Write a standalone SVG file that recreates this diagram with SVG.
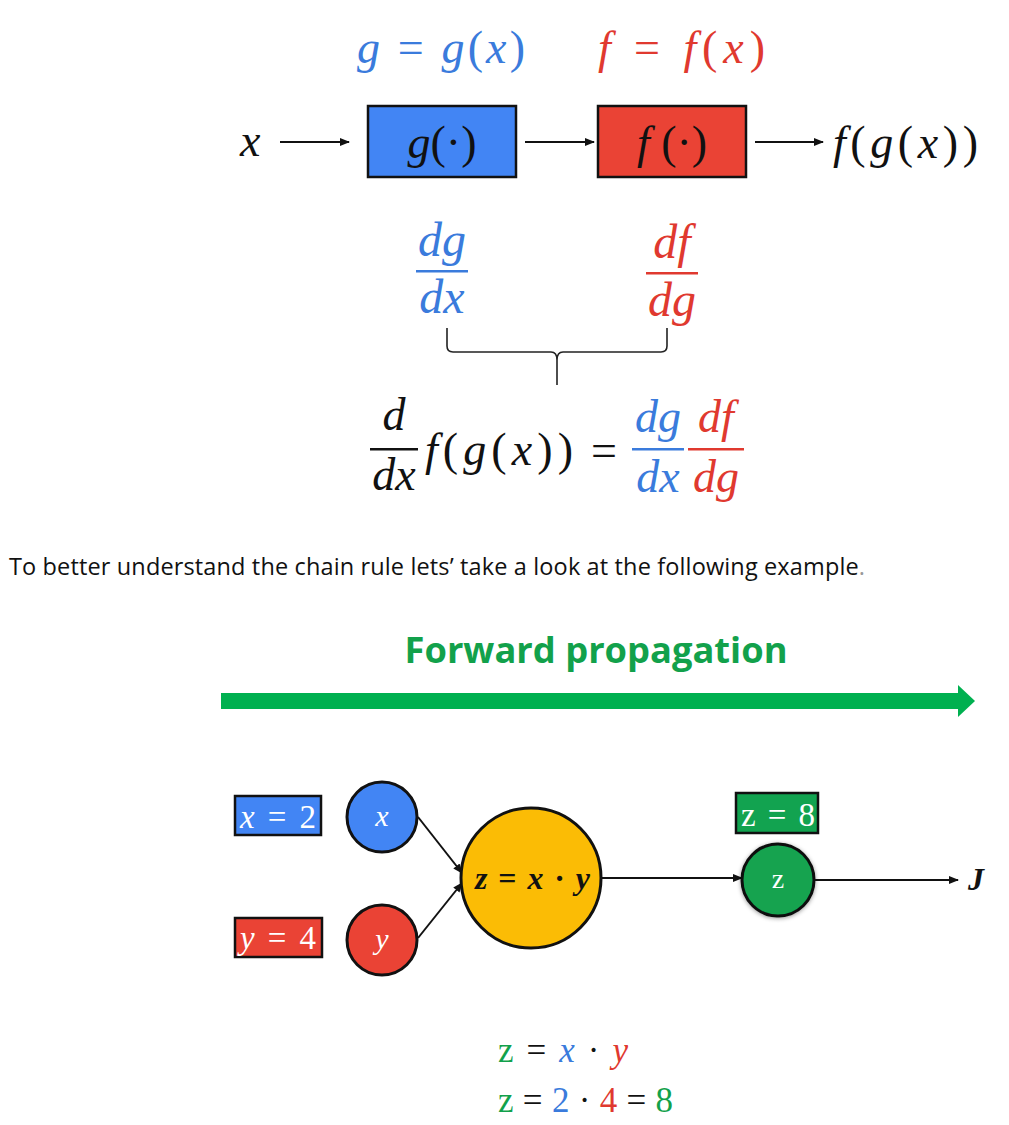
<svg xmlns="http://www.w3.org/2000/svg" width="1009" height="1125" viewBox="0 0 1009 1125">
<style>
.m{font-family:"Liberation Serif","DejaVu Serif",serif;font-style:italic}
.u{font-style:normal}
.b{fill:#3a7bdc}
.r{fill:#e0392f}
.g{fill:#12a14b}
.k{fill:#111}
.w{fill:#fff}
.ln{stroke:#111;stroke-width:2;fill:none}
.node{stroke:#111;stroke-width:3}
.box{stroke:#111;stroke-width:2.5}
</style>
<defs>
<marker id="ah" viewBox="0 0 10 10" refX="9" refY="5" markerWidth="10" markerHeight="10" markerUnits="userSpaceOnUse" orient="auto">
<path d="M0,1 L10,5 L0,9 Z" fill="#111"/>
</marker>
<filter id="sh" x="-30%" y="-30%" width="160%" height="160%">
<feDropShadow dx="0" dy="1" stdDeviation="2" flood-color="#000" flood-opacity="0.4"/>
</filter>
</defs>
<rect width="1009" height="1125" fill="#fff"/>

<!-- top definitions -->
<g id="defs-top" class="m" font-size="46">
<text x="357" y="63" class="b" textLength="168" lengthAdjust="spacing">g <tspan class="u">=</tspan> g<tspan class="u">(</tspan>x<tspan class="u">)</tspan></text>
<text x="598" y="63" class="r" textLength="167" lengthAdjust="spacing">f <tspan class="u">=</tspan> f<tspan class="u">(</tspan>x<tspan class="u">)</tspan></text>
</g>

<!-- top row -->
<g id="input-x"><text x="240" y="156" class="m k" font-size="46">x</text></g>
<g id="box-g">
<rect x="368" y="106" width="148" height="71" fill="#4285f4" class="box"/>
<text x="442" y="158" class="m k" font-size="46" text-anchor="middle">g<tspan class="u">(·)</tspan></text>
</g>
<g id="box-f">
<rect x="598" y="106" width="148" height="71" fill="#ea4335" class="box"/>
<text x="672" y="158" class="m k" font-size="46" text-anchor="middle">f<tspan class="u"> (·)</tspan></text>
</g>
<g id="output-fgx"><text x="833" y="158" class="m k" font-size="46" textLength="145" lengthAdjust="spacing">f<tspan class="u">(</tspan>g<tspan class="u">(</tspan>x<tspan class="u">))</tspan></text></g>

<g id="connectors">
<line x1="280" y1="142" x2="349" y2="142" class="ln" marker-end="url(#ah)"/>
<line x1="525" y1="142" x2="594" y2="142" class="ln" marker-end="url(#ah)"/>
<line x1="755" y1="142" x2="823" y2="142" class="ln" marker-end="url(#ah)"/>
<line x1="418" y1="817" x2="462" y2="873" class="ln" marker-end="url(#ah)"/>
<line x1="418" y1="938" x2="462" y2="883" class="ln" marker-end="url(#ah)"/>
<line x1="602" y1="878" x2="742" y2="878" class="ln" marker-end="url(#ah)"/>
<line x1="815" y1="880" x2="958" y2="880" class="ln" marker-end="url(#ah)"/>
</g>

<!-- derivatives -->
<g id="frac-dgdx" class="m b" font-size="48">
<text x="442" y="256" text-anchor="middle">dg</text>
<rect x="416" y="270" width="52" height="2.5"/>
<text x="442" y="313" text-anchor="middle">dx</text>
</g>
<g id="frac-dfdg" class="m r" font-size="48">
<text x="672" y="258" text-anchor="middle">df</text>
<rect x="646" y="272" width="52" height="2.5"/>
<text x="672" y="316" text-anchor="middle">dg</text>
</g>

<!-- brace -->
<g id="brace">
<path d="M447,328 L447,346 Q447,352 453,352 L551,352 Q557,352 557,360 L557,385 M557,360 Q557,352 563,352 L661,352 Q667,352 667,346 L667,328" fill="none" stroke="#222" stroke-width="1.6"/>
</g>

<!-- chain rule -->
<g id="chain-rule" class="m" font-size="46">
<text x="394" y="430" class="k" text-anchor="middle">d</text>
<rect x="370" y="448" width="48" height="2.5" class="k"/>
<text x="394" y="490" class="k" text-anchor="middle">dx</text>
<text x="425" y="465" class="k" textLength="148" lengthAdjust="spacing">f<tspan class="u">(</tspan>g<tspan class="u">(</tspan>x<tspan class="u">))</tspan></text>
<text x="604" y="466" class="k u" text-anchor="middle">=</text>
<text x="658" y="432" class="b" text-anchor="middle">dg</text>
<rect x="632" y="448" width="52" height="2.5" class="b"/>
<text x="658" y="492" class="b" text-anchor="middle">dx</text>
<text x="716" y="432" class="r" text-anchor="middle">df</text>
<rect x="688" y="448" width="56" height="2.5" class="r"/>
<text x="716" y="492" class="r" text-anchor="middle">dg</text>
</g>

<!-- caption -->
<g id="caption">
<text x="9" y="575" font-family="'Open Sans',sans-serif" font-size="23.5" fill="#111" textLength="856" lengthAdjust="spacing">To better understand the chain rule lets’ take a look at the following example<tspan fill="#999">.</tspan></text>
</g>

<!-- forward propagation -->
<g id="forward-title">
<text x="596" y="663" font-family="'Open Sans',sans-serif" font-weight="bold" font-size="35" fill="#12a14b" text-anchor="middle" textLength="383" lengthAdjust="spacingAndGlyphs">Forward propagation</text>
</g>
<g id="forward-arrow">
<path d="M221,693 L958,693 L958,685 L975,701 L958,717 L958,709 L221,709 Z" fill="#00b050"/>
</g>

<!-- graph nodes -->
<g id="label-x2">
<rect x="235" y="796" width="86" height="39" fill="#4285f4" class="box"/>
<text x="240" y="828" class="m w" font-size="33" textLength="76" lengthAdjust="spacing">x <tspan class="u">= 2</tspan></text>
</g>
<g id="node-x">
<circle cx="382" cy="817" r="35" fill="#4285f4" class="node"/>
<text x="382" y="826" class="m w" font-size="30" text-anchor="middle">x</text>
</g>
<g id="label-y4">
<rect x="235" y="918" width="87" height="39" fill="#ea4335" class="box"/>
<text x="240" y="949" class="m w" font-size="33" textLength="76" lengthAdjust="spacing">y <tspan class="u">= 4</tspan></text>
</g>
<g id="node-y">
<circle cx="382" cy="940" r="35" fill="#ea4335" class="node"/>
<text x="382" y="949" class="m w" font-size="30" text-anchor="middle">y</text>
</g>
<g id="node-z-op">
<circle cx="531" cy="878" r="70" fill="#fbbc05" class="node"/>
<text x="475" y="889" class="m k" font-size="32" font-weight="bold" textLength="115" lengthAdjust="spacing">z <tspan class="u">=</tspan> x <tspan class="u">·</tspan> y</text>
</g>
<g id="label-z8">
<rect x="736" y="793" width="82" height="40" fill="#12a350" class="box"/>
<text x="741" y="826" class="w" font-family="'Liberation Serif',serif" font-size="33" textLength="74" lengthAdjust="spacing">z = 8</text>
</g>
<g id="node-z">
<circle cx="778" cy="880" r="36" fill="#12a350" class="node" filter="url(#sh)"/>
<text x="778" y="888" class="w" font-family="'Liberation Serif',serif" font-size="28" text-anchor="middle">z</text>
</g>
<g id="node-J">
<text x="968" y="890" class="m k" font-size="32" font-weight="bold">J</text>
</g>

<!-- bottom equations -->
<g id="equations" font-family="'Liberation Serif',serif" font-size="35">
<text x="498" y="1062" textLength="130" lengthAdjust="spacing"><tspan class="g">z</tspan><tspan class="k"> = </tspan><tspan class="b" font-style="italic">x</tspan><tspan class="k"> · </tspan><tspan class="r" font-style="italic">y</tspan></text>
<text x="498" y="1112" textLength="175" lengthAdjust="spacing"><tspan class="g">z</tspan><tspan class="k"> = </tspan><tspan class="b">2</tspan><tspan class="k"> · </tspan><tspan class="r">4</tspan><tspan class="k"> = </tspan><tspan class="g">8</tspan></text>
</g>
</svg>
